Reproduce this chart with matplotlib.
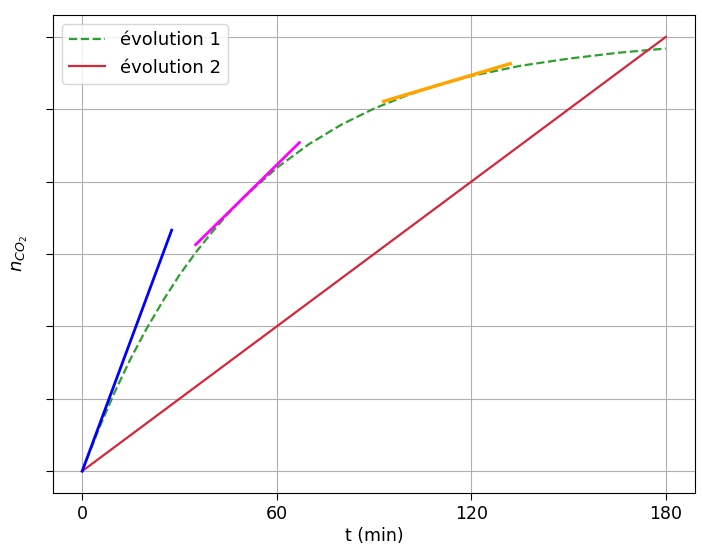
import numpy as np
import matplotlib.pyplot as plt

# évolution 1 : valeurs (unités arbitraires)
t1 = [0, 5, 10, 15, 20, 25, 30, 35, 40, 45, 50, 60, 70, 80, 90, 100, 110, 120, 135, 150, 165, 180]
n1 = [0, 0.57, 1.09, 1.56, 1.98, 2.36, 2.71, 3.02, 3.30, 3.56, 3.79, 4.19, 4.52, 4.79, 5.01,
      5.19, 5.34, 5.46, 5.60, 5.70, 5.78, 5.84]

# évolution 2 : droite
t2 = [0, 180]
n2 = [0, 6]

# tangentes
tan_blue_t = [0, 27.6]
tan_blue_n = [0, 3.33]
tan_mag_t = [35, 67]
tan_mag_n = [3.13, 4.54]
tan_or_t = [93, 132]
tan_or_n = [5.11, 5.63]

xticks = [0, 60, 120, 180]
yticks = [0, 1, 2, 3, 4, 5, 6]

fig = plt.figure(figsize=(7.02, 5.44), dpi=100)
ax = fig.add_axes([0.0755, 0.094, 0.9145, 0.878])

ax.plot(t1, n1, '--', color='tab:green', lw=1.6, label='évolution 1')
ax.plot(t2, n2, '-', color='#d62738', lw=1.6, label='évolution 2')
ax.plot(tan_blue_t, tan_blue_n, color='blue', lw=2)
ax.plot(tan_mag_t, tan_mag_n, color='magenta', lw=2)
ax.plot(tan_or_t, tan_or_n, color='orange', lw=2.5)

ax.set_xticks(xticks)
ax.set_yticks(yticks)
ax.set_yticklabels([])
ax.tick_params(labelsize=12.5, length=5)
ax.set_xlabel('t (min)', fontsize=12.5, labelpad=3)
ax.set_ylabel('$n_{CO_2}$', fontsize=13, labelpad=8)
ax.grid(True)
ax.legend(loc='upper left', fontsize=13)

fig.savefig('out.png', dpi=100)
